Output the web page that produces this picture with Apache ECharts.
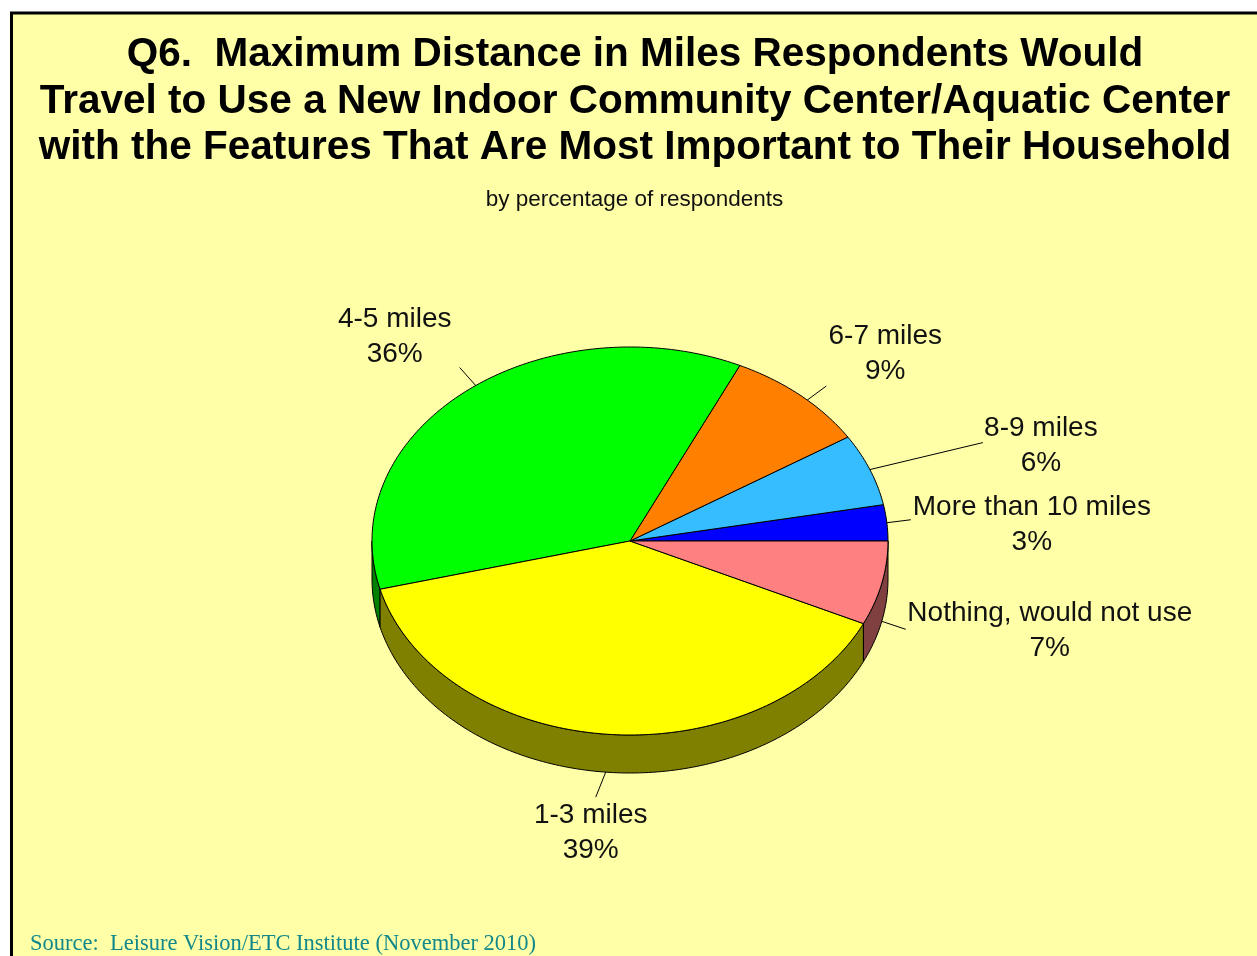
<!DOCTYPE html>
<html>
<head>
<meta charset="utf-8">
<title>Q6. Maximum Distance in Miles</title>
<script src="https://cdn.jsdelivr.net/npm/echarts@6/dist/echarts.min.js"></script>
<style>
  html, body { margin: 0; padding: 0; background: #ffffff; }
  #chart { width: 1257px; height: 956px; }
</style>
</head>
<body>
<div id="chart"></div>
<script>
// Slices in drawing order, starting at 3 o'clock and running counter-clockwise
const categories = ['More than 10 miles', '8-9 miles', '6-7 miles', '4-5 miles', '1-3 miles', 'Nothing, would not use'];
const percents = [3, 6, 9, 36, 39, 7];
const topColors = ['#0000FF', '#35BDFF', '#FF8000', '#00FF00', '#FFFF00', '#FF8080'];
const sideColors = ['#000080', '#1A5E80', '#804000', '#008000', '#808000', '#804040'];

const titleLines = [
  'Q6.  Maximum Distance in Miles Respondents Would',
  'Travel to Use a New Indoor Community Center/Aquatic Center',
  'with the Features That Are Most Important to Their Household'
];
const subtitleText = 'by percentage of respondents';
const sourceText = 'Source:  Leisure Vision/ETC Institute (November 2010)';

// Tilted pie geometry (ellipse radii and wall thickness)
const pie = { cx: 630, cy: 541, rx: 258, ry: 194, depth: 38 };

// Leader line start shift along the rim (radians), leader end (relative to slice anchor)
// and label centre (relative to leader end)
const labelLayout = [
  { shift: 0, leader: [24, -3], text: [121, 5] },
  { shift: 0, leader: [113, -27], text: [58, 3] },
  { shift: -0.035, leader: [19, -14], text: [59, -32] },
  { shift: -0.05, leader: [-16, -18], text: [-65, -31] },
  { shift: 0, leader: [-10, 25], text: [-5, 36] },
  { shift: 0, leader: [24, 8], text: [144, 1] }
];

const total = percents.reduce((a, b) => a + b, 0);
const starts = [];
percents.reduce((acc, v) => { starts.push(acc); return acc + v; }, 0);
const seriesData = percents.map((v, i) => ({ name: categories[i], value: [v, starts[i]] }));

function angleOf(cum) { return cum / total * Math.PI * 2; }
function pt(a, dy) {
  return [pie.cx + pie.rx * Math.cos(a), pie.cy - pie.ry * Math.sin(a) + (dy || 0)];
}
function arc(a0, a1, dy) {
  const pts = [];
  const n = Math.max(2, Math.ceil((a1 - a0) / (Math.PI / 180)));
  for (let k = 0; k <= n; k++) pts.push(pt(a0 + (a1 - a0) * k / n, dy));
  return pts;
}

function renderTop(params, api) {
  const v = api.value(0), s = api.value(1);
  const a0 = angleOf(s), a1 = angleOf(s + v);
  const pts = [[pie.cx, pie.cy]].concat(arc(a0, a1, 0));
  return {
    type: 'polygon',
    shape: { points: pts },
    style: { fill: topColors[params.dataIndex], stroke: '#000', lineWidth: 1 }
  };
}

function renderSide(params, api) {
  const v = api.value(0), s = api.value(1);
  let a0 = angleOf(s), a1 = angleOf(s + v);
  // only the front half of the rim is visible
  a0 = Math.max(a0, Math.PI);
  a1 = Math.min(a1, Math.PI * 2);
  if (a1 <= a0) return null;
  const topArc = arc(a0, a1, 0);
  const botArc = arc(a0, a1, pie.depth).reverse();
  return {
    type: 'polygon',
    shape: { points: topArc.concat(botArc) },
    style: { fill: sideColors[params.dataIndex], stroke: '#000', lineWidth: 1 }
  };
}

function renderLabel(params, api) {
  const i = params.dataIndex;
  const v = api.value(0), s = api.value(1);
  const lay = labelLayout[i];
  const mid = angleOf(s + v / 2) + lay.shift;
  const front = Math.sin(mid) < 0;
  const anchor = pt(mid, front ? pie.depth : 0);
  const end = [anchor[0] + lay.leader[0], anchor[1] + lay.leader[1]];
  return {
    type: 'group',
    children: [
      {
        type: 'line',
        shape: { x1: anchor[0], y1: anchor[1], x2: end[0], y2: end[1] },
        style: { stroke: '#000', lineWidth: 1 }
      },
      {
        type: 'text',
        x: end[0] + lay.text[0],
        y: end[1] + lay.text[1],
        style: {
          text: categories[i] + '\n' + v + '%',
          fill: '#111',
          fontSize: 28,
          fontFamily: '"Liberation Sans", Arial, sans-serif',
          lineHeight: 35,
          align: 'center',
          verticalAlign: 'middle'
        }
      }
    ]
  };
}

const sansFont = '"Liberation Sans", Arial, sans-serif';

const chart = echarts.init(document.getElementById('chart'), null, { renderer: 'canvas' });
chart.setOption({
  backgroundColor: '#ffffff',
  animation: false,
  graphic: [
    {
      type: 'rect',
      z: -10,
      shape: { x: 11.5, y: 13, width: 1270, height: 970 },
      style: { fill: '#FFFFA8', stroke: '#000', lineWidth: 3 },
      silent: true
    },
    {
      type: 'text',
      x: 635,
      y: 101.5,
      silent: true,
      style: {
        text: titleLines.join('\n'),
        fill: '#000',
        fontSize: 40.5,
        fontWeight: 'bold',
        fontFamily: sansFont,
        lineHeight: 46.5,
        align: 'center',
        verticalAlign: 'middle'
      }
    },
    {
      type: 'text',
      x: 634.5,
      y: 200,
      silent: true,
      style: {
        text: subtitleText,
        fill: '#111',
        fontSize: 22.5,
        fontFamily: sansFont,
        align: 'center',
        verticalAlign: 'middle'
      }
    },
    {
      type: 'text',
      x: 30,
      y: 944,
      silent: true,
      style: {
        text: sourceText,
        fill: '#13888A',
        fontSize: 22.5,
        fontFamily: '"Liberation Serif", "Times New Roman", serif',
        align: 'left',
        verticalAlign: 'middle'
      }
    }
  ],
  series: [
    { type: 'custom', name: 'rim', coordinateSystem: 'none', silent: true, z: 1, renderItem: renderSide, data: seriesData },
    { type: 'custom', name: 'slices', coordinateSystem: 'none', silent: true, z: 2, renderItem: renderTop, data: seriesData },
    { type: 'custom', name: 'labels', coordinateSystem: 'none', silent: true, z: 3, renderItem: renderLabel, data: seriesData }
  ]
});
</script>
</body>
</html>
